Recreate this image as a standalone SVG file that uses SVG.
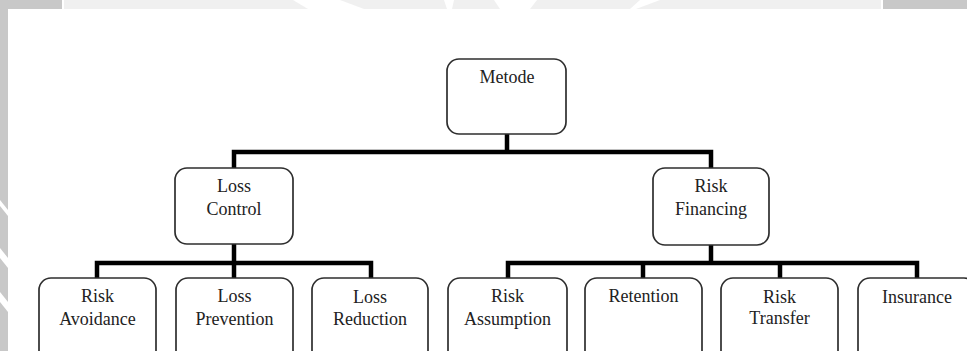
<svg xmlns="http://www.w3.org/2000/svg" width="967" height="351" viewBox="0 0 967 351">
  <style>
    .box { fill: #ffffff; stroke: #2e2e2e; stroke-width: 1.7; }
    .lbl { font-family: "Liberation Serif", "Times New Roman", serif; font-size: 18px; fill: #222222; text-anchor: middle; }
    .conn { fill: none; stroke: #000000; stroke-width: 4.5; stroke-linejoin: miter; stroke-linecap: butt; }
  </style>
  <rect x="0" y="0" width="967" height="351" fill="#ffffff"/>
  <g id="watermark">
    <rect x="0" y="0" width="62" height="9" fill="#c8c8c8"/>
    <rect x="64" y="0" width="817" height="9" fill="#f0f0f0"/>
    <rect x="883" y="0" width="84" height="9" fill="#c8c8c8"/>
    <rect x="0" y="9" width="8" height="342" fill="#c8c8c8"/>
    <polygon points="293,0 340,0 364,9 308,9" fill="#ffffff"/>
    <polygon points="444,0 454,0 452,9 447,9" fill="#ffffff"/>
    <polygon points="494,0 537,0 530,9 500,9" fill="#ffffff"/>
    <polygon points="640,0 660,0 636,9 630,9" fill="#ffffff"/>
    <polygon points="0,248 8,258 8,268 0,258" fill="#ffffff"/>
    <polygon points="0,292 8,302 8,312 0,302" fill="#ffffff"/>
    <polygon points="0,200 8,210 8,216 0,206" fill="#ffffff"/>
  </g>
  <g id="connectors">
    <path class="conn" d="M507,134 V152"/>
    <path class="conn" d="M234,168 V152 H711 V168"/>
    <path class="conn" d="M234,244 V263"/>
    <path class="conn" d="M97,278 V263 H371 V278"/>
    <path class="conn" d="M234,263 V278"/>
    <path class="conn" d="M711,245 V263"/>
    <path class="conn" d="M508,278 V263 H917 V278"/>
    <path class="conn" d="M643,263 V278"/>
    <path class="conn" d="M780,263 V278"/>
  </g>
  <g id="metode">
    <rect class="box" x="447" y="59" width="119" height="75" rx="12"/>
    <text class="lbl" x="507" y="83">Metode</text>
  </g>
  <g id="loss-control">
    <rect class="box" x="175" y="168" width="118" height="76" rx="12"/>
    <text class="lbl" x="234" y="192">Loss</text>
    <text class="lbl" x="234" y="215">Control</text>
  </g>
  <g id="risk-financing">
    <rect class="box" x="653" y="168" width="116" height="77" rx="12"/>
    <text class="lbl" x="711" y="192">Risk</text>
    <text class="lbl" x="711" y="215">Financing</text>
  </g>
  <g id="risk-avoidance">
    <rect class="box" x="39" y="278" width="117" height="90" rx="12"/>
    <text class="lbl" x="97.5" y="302">Risk</text>
    <text class="lbl" x="97.5" y="325">Avoidance</text>
  </g>
  <g id="loss-prevention">
    <rect class="box" x="176" y="278" width="117" height="90" rx="12"/>
    <text class="lbl" x="234.5" y="302">Loss</text>
    <text class="lbl" x="234.5" y="325">Prevention</text>
  </g>
  <g id="loss-reduction">
    <rect class="box" x="312" y="278" width="116" height="90" rx="12"/>
    <text class="lbl" x="370" y="303">Loss</text>
    <text class="lbl" x="370" y="325">Reduction</text>
  </g>
  <g id="risk-assumption">
    <rect class="box" x="448" y="278" width="119" height="90" rx="12"/>
    <text class="lbl" x="507.5" y="302">Risk</text>
    <text class="lbl" x="507.5" y="325">Assumption</text>
  </g>
  <g id="retention">
    <rect class="box" x="585" y="278" width="117" height="90" rx="12"/>
    <text class="lbl" x="643.5" y="302">Retention</text>
  </g>
  <g id="risk-transfer">
    <rect class="box" x="721" y="278" width="117" height="90" rx="12"/>
    <text class="lbl" x="779.5" y="303">Risk</text>
    <text class="lbl" x="779.5" y="324">Transfer</text>
  </g>
  <g id="insurance">
    <rect class="box" x="858" y="278" width="118" height="90" rx="12"/>
    <text class="lbl" x="917" y="303">Insurance</text>
  </g>
</svg>
